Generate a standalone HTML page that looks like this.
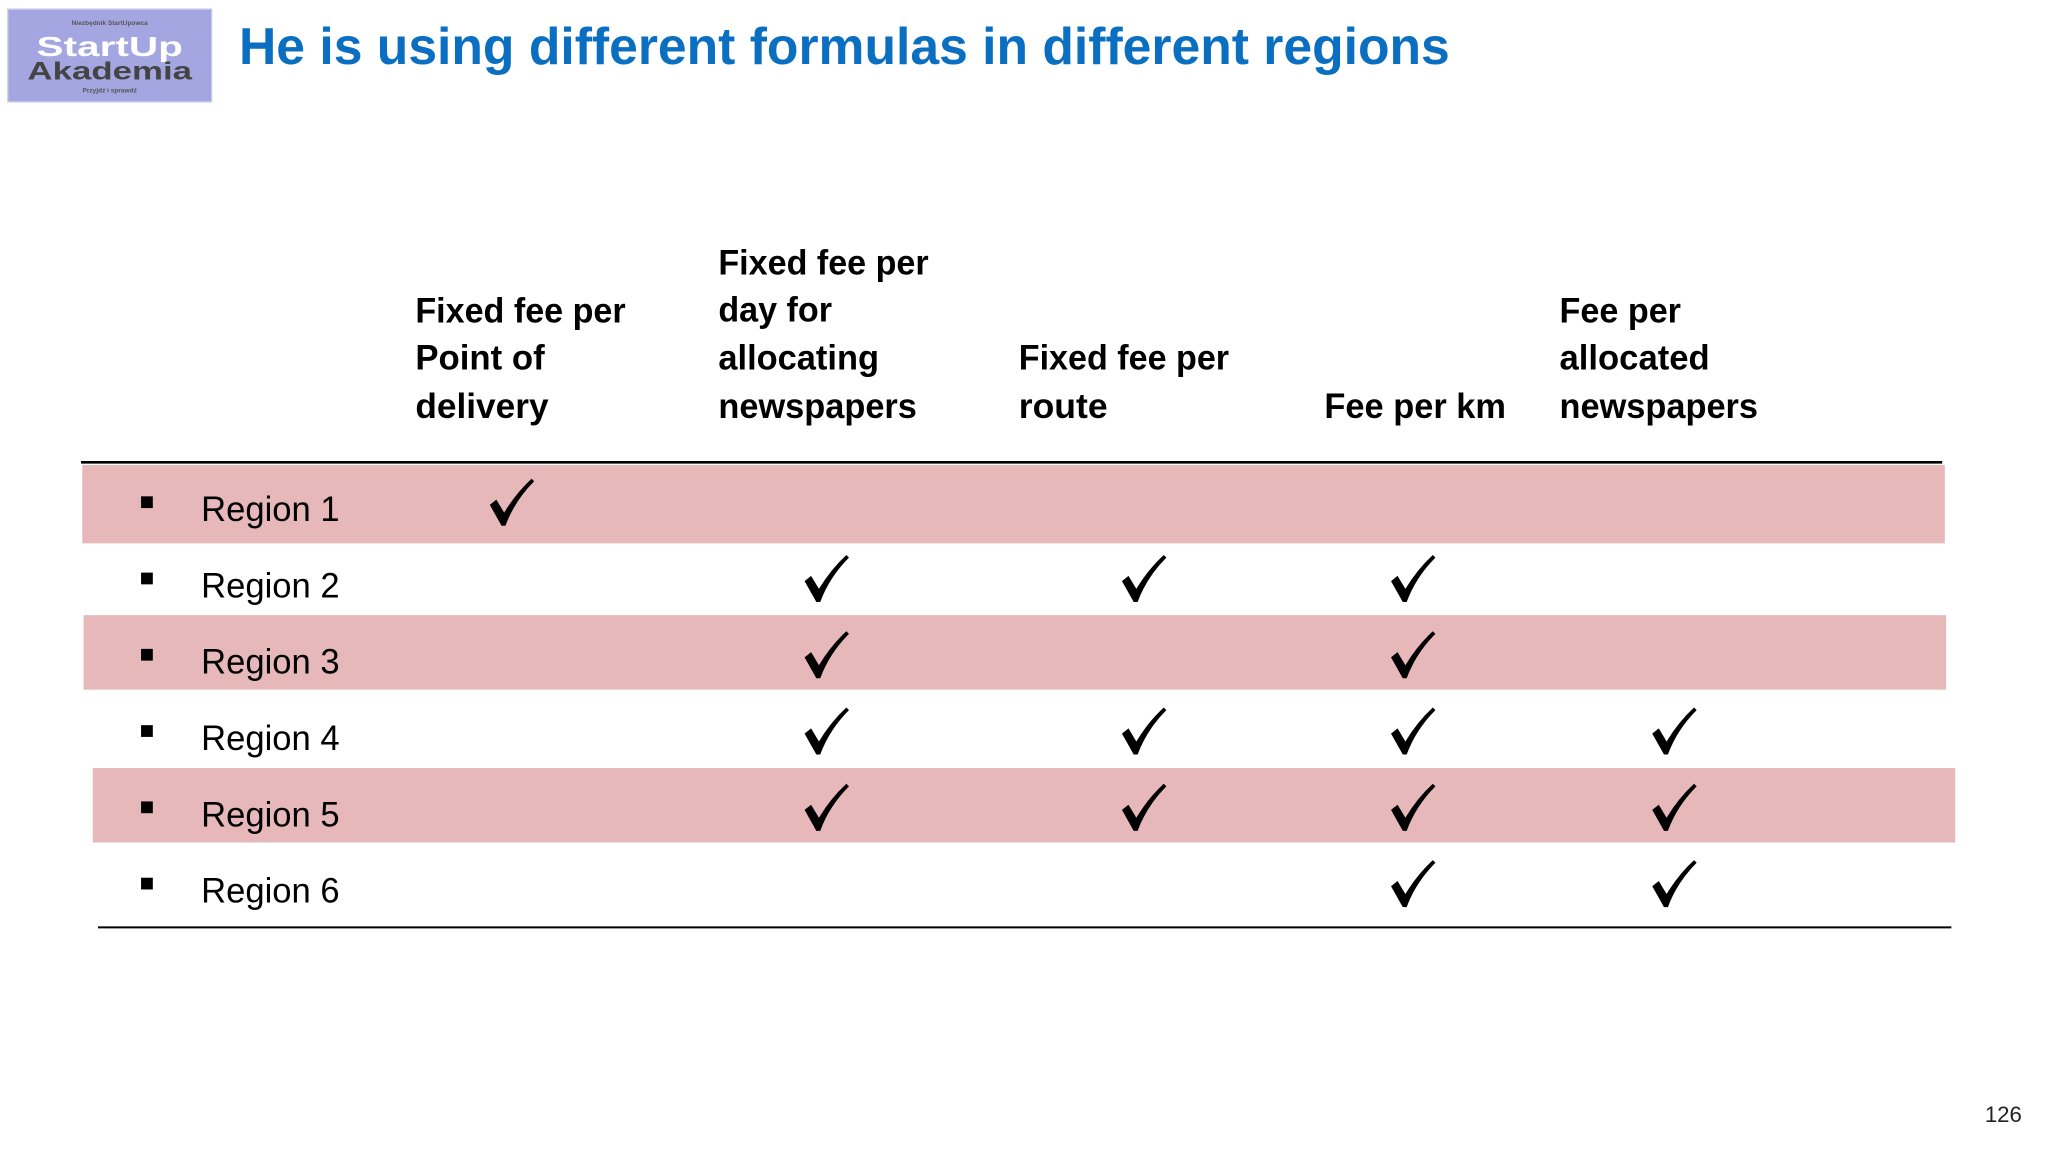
<!DOCTYPE html>
<html><head><meta charset="utf-8">
<style>
html,body{margin:0;padding:0;background:#fff;}
svg{display:block;}
text{font-family:"Liberation Sans",sans-serif;}
</style></head>
<body>
<svg id="slide" width="2048" height="1152" viewBox="0 0 1568 882" xmlns="http://www.w3.org/2000/svg">
  <g>
    <rect x="6" y="7" width="156" height="71" fill="#a3a6e0" stroke="#c8cae8" stroke-width="1"/>
    <text x="84" y="19" font-size="5" font-weight="bold" fill="#555" text-anchor="middle" font-family="Liberation Serif">Niezbędnik StartUpowca</text>
    <text x="84" y="43" font-size="21" font-weight="bold" fill="#fff" text-anchor="middle" font-family="Liberation Serif" textLength="112" lengthAdjust="spacingAndGlyphs">StartUp</text>
    <text x="84" y="61" font-size="19" font-weight="bold" fill="#444" text-anchor="middle" font-family="Liberation Serif" textLength="126" lengthAdjust="spacingAndGlyphs">Akademia</text>
    <text x="84" y="71" font-size="5" font-weight="bold" fill="#555" text-anchor="middle" font-family="Liberation Serif">Przyjdź i sprawdź</text>
  </g>
  <text x="183" y="49" font-size="40" font-weight="bold" fill="#0b6fc1" textLength="927" lengthAdjust="spacingAndGlyphs">He is using different formulas in different regions</text>

  <g id="bands"></g>
  <line x1="62" y1="354" x2="1487" y2="354" stroke="#000" stroke-width="2"/>
  <line x1="75" y1="710" x2="1494" y2="710" stroke="#000" stroke-width="1.5"/>

  <g font-size="27" font-weight="bold" fill="#000">
    <text>
      <tspan x="318" y="247" textLength="161" lengthAdjust="spacingAndGlyphs">Fixed fee per</tspan>
      <tspan x="318" y="283" textLength="99" lengthAdjust="spacingAndGlyphs">Point of</tspan>
      <tspan x="318" y="320" textLength="102" lengthAdjust="spacingAndGlyphs">delivery</tspan>
    </text>
    <text>
      <tspan x="550" y="210" textLength="161" lengthAdjust="spacingAndGlyphs">Fixed fee per</tspan>
      <tspan x="550" y="246" textLength="87" lengthAdjust="spacingAndGlyphs">day for</tspan>
      <tspan x="550" y="283" textLength="123" lengthAdjust="spacingAndGlyphs">allocating</tspan>
      <tspan x="550" y="320" textLength="152" lengthAdjust="spacingAndGlyphs">newspapers</tspan>
    </text>
    <text>
      <tspan x="780" y="283" textLength="161" lengthAdjust="spacingAndGlyphs">Fixed fee per</tspan>
      <tspan x="780" y="320" textLength="68" lengthAdjust="spacingAndGlyphs">route</tspan>
    </text>
    <text>
      <tspan x="1014" y="320" textLength="139" lengthAdjust="spacingAndGlyphs">Fee per km</tspan>
    </text>
    <text>
      <tspan x="1194" y="247" textLength="93" lengthAdjust="spacingAndGlyphs">Fee per</tspan>
      <tspan x="1194" y="283" textLength="115" lengthAdjust="spacingAndGlyphs">allocated</tspan>
      <tspan x="1194" y="320" textLength="152" lengthAdjust="spacingAndGlyphs">newspapers</tspan>
    </text>
  </g>
  <g id="rows"></g>
  <text x="1548" y="859" font-size="17" text-anchor="end" fill="#222">126</text>
</svg>
<script>
const regions = ["Region 1","Region 2","Region 3","Region 4","Region 5","Region 6"];
const columns = ["Fixed fee per Point of delivery","Fixed fee per day for allocating newspapers","Fixed fee per route","Fee per km","Fee per allocated newspapers"];
const checks = [
  [1,0,0,0,0],
  [0,1,1,1,0],
  [0,1,0,1,0],
  [0,1,1,1,1],
  [0,1,1,1,1],
  [0,0,0,1,1]
];
const NS = "http://www.w3.org/2000/svg";
// layout (not data)
const rowTops = [356,416,471,528,588,645,710];
const bandX = [63,0,64,0,71,0];
const colX = [392,633,876,1082,1282];
const bands = document.getElementById('bands');
const rowsG = document.getElementById('rows');
function rowCenter(i){ return 388 + 58.4*i; }
regions.forEach((r,i)=>{
  if(i%2===0){
    const b=document.createElementNS(NS,'rect');
    
    
    b.setAttribute('x',bandX[i]); b.setAttribute('y',rowTops[i]);
    b.setAttribute('width',1426); b.setAttribute('height',rowTops[i+1]-rowTops[i]);
    b.setAttribute('fill','#e6b8b9');
    bands.appendChild(b);
  }
  const cy=rowCenter(i);
  const sq=document.createElementNS(NS,'rect');
  
  
  sq.setAttribute('x',108); sq.setAttribute('y',cy-8); sq.setAttribute('width',9); sq.setAttribute('height',9);
  rowsG.appendChild(sq);
  const t=document.createElementNS(NS,'text');
  
  
  t.setAttribute('x',154); t.setAttribute('y',cy+11);
  t.setAttribute('font-size','27'); t.setAttribute('textLength','106'); t.setAttribute('lengthAdjust','spacingAndGlyphs');
  t.textContent=r;
  rowsG.appendChild(t);
  checks[i].forEach((v,j)=>{
    if(!v) return;
    const cx=colX[j];
    const ck=cy-2.5;
    const p=document.createElementNS(NS,'path');
    
    
    p.setAttribute('d',`M${cx-17} ${ck+1} L${cx-12} ${ck-3} L${cx-6} ${ck+7} Q${cx+3} ${ck-8} ${cx+15} ${ck-19} L${cx+17} ${ck-17} Q${cx+2} ${ck-2} ${cx-5} ${ck+17} L${cx-8} ${ck+17} Z`);
    p.setAttribute('fill','#000');
    rowsG.appendChild(p);
  });
});
</script>
</body></html>
